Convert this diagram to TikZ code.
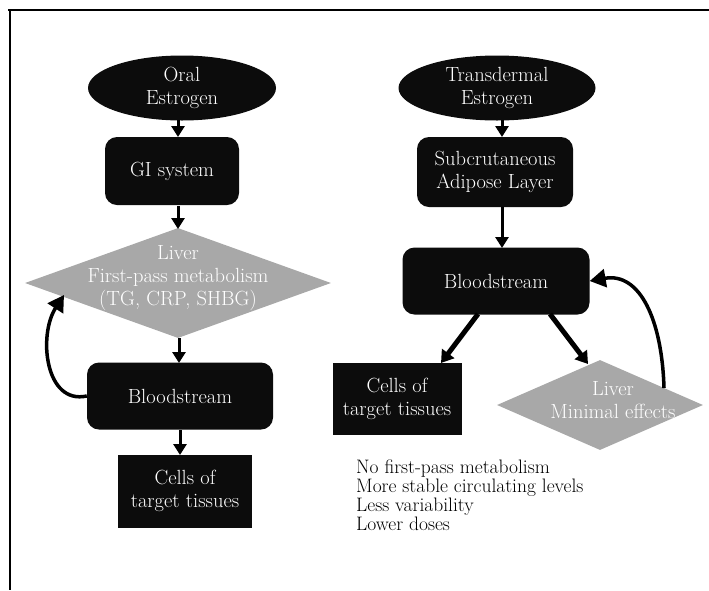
\documentclass[tikz,border=0pt]{standalone}
\usetikzlibrary{shapes.geometric,arrows.meta}
\definecolor{liverfill}{RGB}{168,168,168}
\definecolor{boxfill}{RGB}{12,12,12}
\begin{document}
\begin{tikzpicture}[x=1pt,y=-1pt,
  every node/.style={font=\fontsize{20.5}{23}\selectfont, align=center},
  roundbox/.style={fill=boxfill, rounded corners=12pt, text=white, inner sep=0pt},
  sqbox/.style={fill=boxfill, text=white, inner sep=0pt},
  oval/.style={ellipse, fill=boxfill, text=white, inner sep=0pt},
  livershape/.style={diamond, fill=liverfill, inner sep=0pt},
  livertext/.style={text=white, inner sep=0pt},
  flow/.style={line width=3pt, -{Triangle[width=13pt,length=11pt]}},
  bigflow/.style={line width=5pt, -{Triangle[width=15pt,length=12pt]}},
  loopflow/.style={line width=3.5pt, -{Triangle[width=18pt,length=16pt]}},
  plain/.style={inner sep=0pt, align=left, font=\fontsize{19.5}{19}\selectfont}
]
\useasboundingbox (0,0) rectangle (709,590);
% frame
\draw[line width=1.5pt] (8,10) -- (709,10);
\draw[line width=1.5pt] (10,10) -- (10,590);

% left column
\node[oval, minimum width=188pt, minimum height=65pt] (oral) at (182,88) {Oral\\Estrogen};
\node[roundbox, minimum width=134pt, minimum height=68pt] (gi) at (172,171) {GI system};
\node[livershape, minimum width=306pt, minimum height=110pt] (liverL) at (178,283) {};
\node[livertext] (liverLt) at (178,278) {Liver\\First-pass metabolism\\(TG, CRP, SHBG)};
\node[roundbox, minimum width=186pt, minimum height=67pt] (bloodL) at (180,396) {Bloodstream};
\node[sqbox, minimum width=134pt, minimum height=73pt] (cellsL) at (185,491) {Cells of\\target tissues};

\coordinate (a1) at (178,120);
\coordinate (a2) at (178,206);
\coordinate (a3) at (179,338);
\coordinate (a4) at (180,430);
\draw[flow] (a1) -- (178,137);
\draw[flow] (a2) -- (178,229);
\draw[flow] (a3) -- (179,363);
\draw[flow] (a4) -- (180,455);
\draw[loopflow] (bloodL.west) .. controls (45,405) and (38,335) .. (64,295);

% right column
\node[oval, minimum width=197pt, minimum height=65pt] (trans) at (497,88) {Transdermal\\Estrogen};
\node[roundbox, minimum width=156pt, minimum height=70pt] (subq) at (495,172) {Subcrutaneous\\Adipose Layer};
\node[roundbox, minimum width=187pt, minimum height=67pt] (bloodR) at (496,281) {Bloodstream};
\node[sqbox, minimum width=129pt, minimum height=72pt] (cellsR) at (397,399) {Cells of\\target tissues};
\node[livershape, minimum width=206pt, minimum height=90pt] (liverR) at (600,405) {};
\node[livertext] (liverRt) at (613,400) {Liver\\Minimal effects};

\coordinate (t1) at (502,120);
\coordinate (s1) at (502,207);
\coordinate (b1) at (478,314);
\coordinate (b2) at (550,314);
\draw[flow] (t1) -- (502,137);
\draw[flow] (s1) -- (502,248);
\draw[bigflow] (b1) -- (441,363);
\draw[bigflow] (b2) -- (588,364);
\draw[loopflow] (664,388) .. controls (662,320) and (640,272) .. (bloodR.east);

\node[plain, anchor=north west] (notes) at (356,460)
  {No first-pass metabolism\\More stable circulating levels\\Less variability\\Lower doses};
\end{tikzpicture}
\end{document}
